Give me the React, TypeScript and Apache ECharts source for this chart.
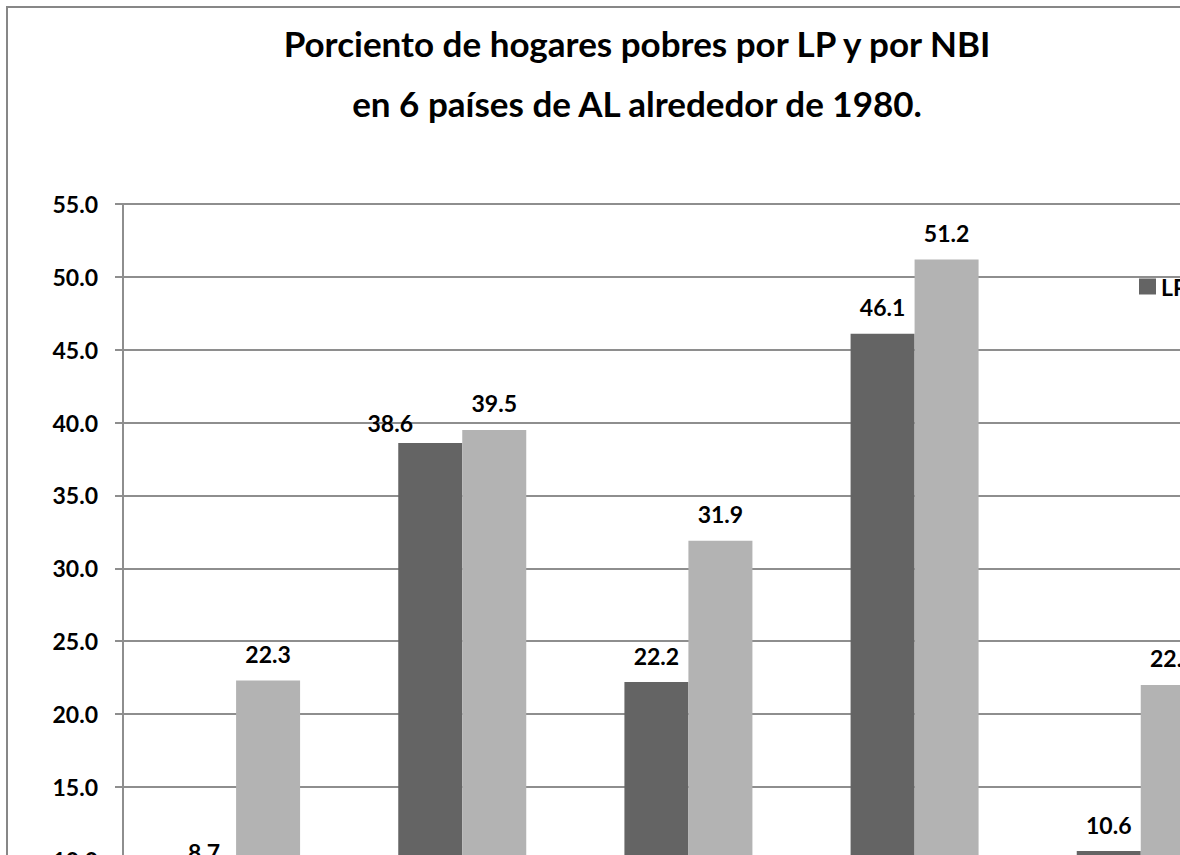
import React, { useEffect, useRef } from "react";
import * as echarts from "echarts";

const categories = ["Argentina", "Brasil", "Colombia", "Perú", "Uruguay", "Venezuela"];
const lpValues = [8.7, 38.6, 22.2, 46.1, 10.6, 21.5];
const nbiValues = [22.3, 39.5, 31.9, 51.2, 22.0, 24.9];
const seriesNames = ["LP", "NBI"];
const titleLines = [
  "Porciento de hogares pobres por LP y por NBI",
  "en 6 países de AL alrededor de 1980.",
];

const FONT = "Lato, 'Open Sans', sans-serif";
const CW = 1560;
const CH = 1100;

export default function App() {
  const ref = useRef<HTMLDivElement>(null);
  useEffect(() => {
    if (!ref.current) return;
    const chart = echarts.init(ref.current, undefined, { renderer: "svg" });
    const labelBase = {
      show: true,
      position: "top" as const,
      distance: 15,
      fontFamily: FONT,
      fontWeight: "bold" as const,
      fontSize: 23,
      color: "#000",
      formatter: (p: any) => Number(p.value).toFixed(1),
    };
    chart.setOption({
      animation: false,
      backgroundColor: "#fff",
      graphic: [
        {
          type: "rect",
          shape: { x: 1, y: 1, width: CW - 2, height: CH - 2 },
          style: { fill: "none", stroke: "#878787", lineWidth: 2 },
          silent: true,
        },
        {
          type: "text",
          x: 631,
          y: 37,
          style: {
            text: titleLines[0],
            textAlign: "center",
            textVerticalAlign: "middle",
            font: `bold 35px ${FONT}`,
            fill: "#000",
          },
        },
        {
          type: "text",
          x: 631,
          y: 97,
          style: {
            text: titleLines[1],
            textAlign: "center",
            textVerticalAlign: "middle",
            font: `bold 35px ${FONT}`,
            fill: "#000",
          },
        },
      ],
      legend: {
        orient: "horizontal",
        left: 1133,
        top: 269,
        padding: 0,
        itemWidth: 17,
        itemHeight: 16,
        itemGap: 20,
        icon: "rect",
        textStyle: { fontFamily: FONT, fontWeight: "bold", fontSize: 23, color: "#000" },
        data: seriesNames,
      },
      grid: { left: 117, top: 198, width: 1357, height: 801.6 },
      xAxis: {
        type: "category",
        data: categories,
        axisLine: { show: true, lineStyle: { color: "#8e8e8e", width: 2 } },
        axisTick: { show: false },
        axisLabel: { fontFamily: FONT, fontWeight: "bold", fontSize: 23, color: "#000" },
      },
      yAxis: {
        type: "value",
        min: 0,
        max: 55,
        interval: 5,
        axisLine: { show: true, lineStyle: { color: "#8e8e8e", width: 2 } },
        axisTick: { show: true, length: 8, lineStyle: { color: "#8e8e8e", width: 2 } },
        axisLabel: {
          margin: 25,
          fontFamily: FONT,
          fontWeight: "bold",
          fontSize: 23,
          color: "#000",
          formatter: (v: number) => v.toFixed(1),
        },
        splitLine: { show: true, lineStyle: { color: "#8e8e8e", width: 2 } },
      },
      series: [
        {
          name: seriesNames[0],
          type: "bar",
          barWidth: 64,
          barGap: "0%",
          itemStyle: { color: "#646464" },
          label: labelBase,
          data: lpValues.map((v, i) =>
            i === 1 ? { value: v, label: { offset: [-40, 6] } } : v
          ),
        },
        {
          name: seriesNames[1],
          type: "bar",
          barWidth: 64,
          barGap: "0%",
          itemStyle: { color: "#b3b3b3" },
          label: labelBase,
          data: nbiValues,
        },
      ],
    });
    return () => chart.dispose();
  }, []);
  return (
    <div
      style={{
        position: "absolute",
        left: 6,
        top: 6,
        width: 1174,
        height: 849,
        overflow: "hidden",
      }}
    >
      <div ref={ref} style={{ width: CW, height: CH }} />
    </div>
  );
}
